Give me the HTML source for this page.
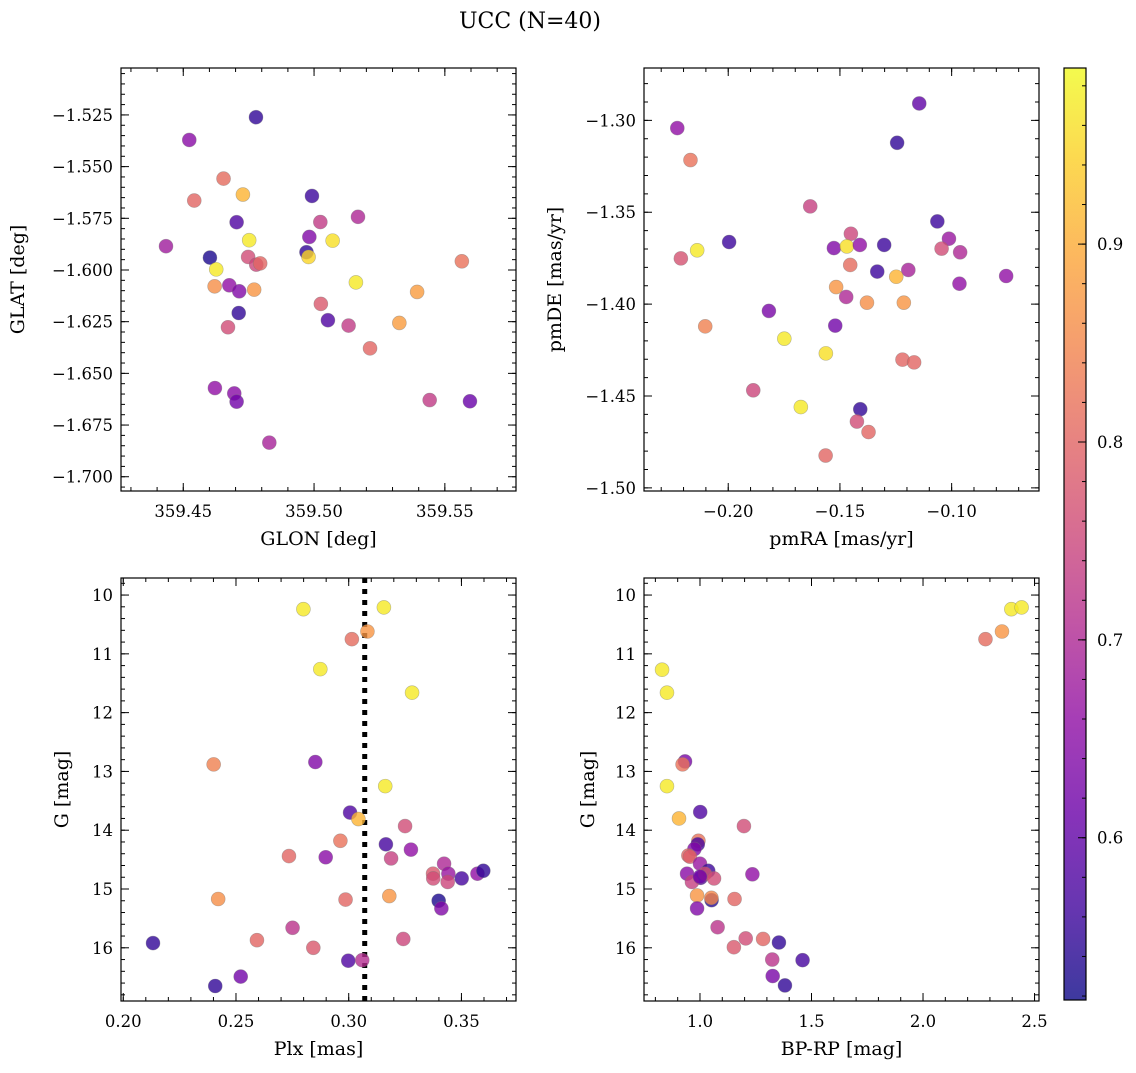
<!DOCTYPE html>
<html><head><meta charset="utf-8"><style>
html,body{margin:0;padding:0;background:#fff;}
svg text{font-family:"DejaVu Serif","Liberation Serif",serif;fill:#000;}
</style></head><body>
<svg id="fig" width="1136" height="1068" viewBox="0 0 1136 1068" xmlns="http://www.w3.org/2000/svg">
<text x="530" y="28" font-size="22" text-anchor="middle">UCC (N=40)</text>
</svg>
<script>
// ---- data ----
const glon=[359.4778,359.4523,359.4654,359.4728,359.4542,359.4992,359.4704,359.5024,359.5168,359.4434,359.4752,359.4982,359.5071,359.4602,359.4971,359.4979,359.4748,359.4779,359.4794,359.5565,359.4626,359.4620,359.4676,359.4714,359.4771,359.5160,359.5394,359.5026,359.4712,359.5053,359.4671,359.5132,359.5326,359.5214,359.4621,359.4695,359.4704,359.5442,359.5596,359.4829];
const glat=[-1.5261,-1.5371,-1.5558,-1.5635,-1.5664,-1.5642,-1.5769,-1.5768,-1.5743,-1.5885,-1.5856,-1.5840,-1.5858,-1.5940,-1.5914,-1.5937,-1.5937,-1.5974,-1.5968,-1.5958,-1.5997,-1.6079,-1.6074,-1.6103,-1.6095,-1.6060,-1.6106,-1.6164,-1.6208,-1.6243,-1.6277,-1.6269,-1.6256,-1.6379,-1.6571,-1.6597,-1.6637,-1.6629,-1.6635,-1.6835];
const probPos=[.55,.65,.81,.91,.80,.56,.58,.73,.70,.68,.97,.64,.96,.53,.55,.95,.76,.75,.80,.82,.97,.86,.66,.64,.87,.97,.88,.78,.55,.58,.76,.73,.88,.80,.66,.65,.62,.73,.61,.69];
const pmra=[-0.2228,-0.2169,-0.1145,-0.1244,-0.1633,-0.1996,-0.2139,-0.2212,-0.1451,-0.1527,-0.1469,-0.1411,-0.1302,-0.1064,-0.1012,-0.1045,-0.0962,-0.1454,-0.1333,-0.1194,-0.1248,-0.0756,-0.0965,-0.1517,-0.1472,-0.1379,-0.1214,-0.1818,-0.2103,-0.1521,-0.1749,-0.1563,-0.1220,-0.1168,-0.1888,-0.1675,-0.1409,-0.1424,-0.1372,-0.1564];
const pmde=[-1.3042,-1.3216,-1.2908,-1.3122,-1.3468,-1.3662,-1.3707,-1.3751,-1.3617,-1.3695,-1.3686,-1.3678,-1.3678,-1.3550,-1.3644,-1.3698,-1.3718,-1.3787,-1.3823,-1.3814,-1.3851,-1.3847,-1.3889,-1.3907,-1.3961,-1.3992,-1.3992,-1.4037,-1.4121,-1.4117,-1.4188,-1.4268,-1.4302,-1.4317,-1.4469,-1.4560,-1.4572,-1.4639,-1.4696,-1.4824];
const probPm=[.66,.82,.60,.55,.74,.56,.97,.77,.75,.64,.96,.66,.56,.56,.67,.76,.70,.81,.56,.69,.91,.66,.66,.87,.70,.86,.87,.63,.84,.62,.97,.96,.80,.80,.75,.97,.55,.76,.80,.80];
const plx=[0.2799,0.3156,0.3083,0.3014,0.2874,0.3281,0.2401,0.2852,0.3162,0.3006,0.3043,0.3250,0.2963,0.3165,0.3276,0.2735,0.2898,0.3188,0.3423,0.3374,0.3375,0.3442,0.3439,0.3501,0.3571,0.3597,0.2421,0.2986,0.3180,0.3399,0.3411,0.2751,0.2132,0.2593,0.2843,0.3242,0.2998,0.3060,0.2521,0.2408];
const gPlx=[10.24,10.21,10.62,10.75,11.26,11.66,12.88,12.84,13.25,13.70,13.81,13.93,14.18,14.24,14.33,14.44,14.46,14.48,14.57,14.74,14.82,14.74,14.88,14.82,14.74,14.69,15.17,15.18,15.12,15.20,15.33,15.66,15.92,15.87,16.00,15.85,16.22,16.21,16.49,16.65];
const probPlx=[.97,.97,.87,.81,.97,.97,.84,.64,.97,.58,.91,.76,.82,.57,.66,.80,.65,.74,.70,.78,.76,.67,.75,.57,.66,.55,.86,.80,.87,.53,.64,.72,.55,.80,.78,.75,.58,.71,.62,.55];
const plxMedian=[0.3071];
const bprp=[2.396,2.442,2.354,2.280,0.830,0.852,0.933,0.922,0.852,1.001,0.906,1.197,0.993,0.990,0.975,0.948,0.955,1.000,0.942,1.235,1.037,1.003,1.022,1.063,0.964,0.987,1.052,1.051,1.155,0.987,1.079,1.205,1.283,1.354,1.152,1.324,1.460,1.326,1.381,1.000];
const gCmd=[10.24,10.21,10.62,10.75,11.27,11.66,12.83,12.88,13.25,13.69,13.80,13.93,14.18,14.24,14.32,14.43,14.45,14.57,14.74,14.75,14.69,14.81,14.74,14.82,14.88,15.11,15.19,15.15,15.17,15.33,15.65,15.84,15.85,15.91,15.99,16.20,16.21,16.48,16.64,14.79];
const probCmd=[.97,.97,.87,.81,.97,.97,.63,.82,.97,.58,.91,.76,.82,.57,.64,.80,.79,.67,.65,.66,.56,.58,.77,.76,.74,.87,.54,.85,.80,.64,.72,.76,.80,.55,.78,.72,.57,.63,.55,.62];
const cbTicks=[0.6,0.7,0.8,0.9];
const cbRange=[0.518,0.989];

const NS="http://www.w3.org/2000/svg";
const svg=document.getElementById('fig');
function mk(tag,attrs,parent){const e=document.createElementNS(NS,tag);for(const k in attrs)e.setAttribute(k,attrs[k]);(parent||svg).appendChild(e);return e;}
const stops=[[13,8,135],[65,4,157],[106,0,168],[143,13,164],[177,42,144],[204,71,120],[225,100,98],[242,132,75],[252,166,54],[252,206,37],[240,249,33]];
function plasma(t){t=Math.max(0,Math.min(1,t))*10;const i=Math.min(9,Math.floor(t)),f=t-i;const a=stops[i],b=stops[i+1];return 'rgb('+a.map((v,k)=>Math.round(v+(b[k]-v)*f)).join(',')+')';}
function cmap(p){return plasma((p-cbRange[0])/(cbRange[1]-cbRange[0]));}
function fmt(v,d){return (v<0?'\u2212':'')+Math.abs(v).toFixed(d);}
const TF=16.5, LF=19;

function panel(o){
  const g=mk('g',{});
  
  
  const X=v=>o.x0+(v-o.xr[0])/(o.xr[1]-o.xr[0])*(o.x1-o.x0);
  const Y=v=>o.y0+(v-o.yr[0])/(o.yr[1]-o.yr[0])*(o.y1-o.y0);
  function ticks(range,step,cb){const lo=Math.min(range[0],range[1]),hi=Math.max(range[0],range[1]);for(let k=Math.ceil(lo/step-1e-6);k*step<=hi+1e-9;k++)cb(k*step);}
  ticks(o.xr,o.xminor,v=>{const x=X(v);mk('line',{x1:x,x2:x,y1:o.y1,y2:o.y1-4,stroke:'#000','stroke-width':1},g);mk('line',{x1:x,x2:x,y1:o.y0,y2:o.y0+4,stroke:'#000','stroke-width':1},g);});
  ticks(o.yr,o.yminor,v=>{const y=Y(v);mk('line',{x1:o.x0,x2:o.x0+4,y1:y,y2:y,stroke:'#000','stroke-width':1},g);mk('line',{x1:o.x1,x2:o.x1-4,y1:y,y2:y,stroke:'#000','stroke-width':1},g);});
  ticks(o.xr,o.xmajor,v=>{const x=X(v);mk('line',{x1:x,x2:x,y1:o.y1,y2:o.y1-8,stroke:'#000','stroke-width':1},g);mk('line',{x1:x,x2:x,y1:o.y0,y2:o.y0+8,stroke:'#000','stroke-width':1},g);
    const t=mk('text',{x:x,y:o.y1+26,'font-size':TF,'text-anchor':'middle'},g);t.textContent=fmt(v,o.xd);
    
    });
  ticks(o.yr,o.ymajor,v=>{const y=Y(v);mk('line',{x1:o.x0,x2:o.x0+8,y1:y,y2:y,stroke:'#000','stroke-width':1},g);mk('line',{x1:o.x1,x2:o.x1-8,y1:y,y2:y,stroke:'#000','stroke-width':1},g);
    const t=mk('text',{x:o.x0-8,y:y+6,'font-size':TF,'text-anchor':'end'},g);t.textContent=fmt(v,o.yd);
    
    });
  if(o.vline){const x=X(o.vline[0]);const l=mk('line',{x1:x,x2:x,y1:o.y0,y2:o.y1,stroke:'#000','stroke-width':5,'stroke-dasharray':'5,6'},g);
    
    }
  for(let i=0;i<o.xs.length;i++){
    const c=mk('circle',{cx:X(o.xs[i]),cy:Y(o.ys[i]),r:7,fill:cmap(o.ps[i]),'fill-opacity':0.8,stroke:'#777','stroke-opacity':0.5,'stroke-width':0.6},g);
    
    
  }
  const fr=mk('rect',{x:o.x0,y:o.y0,width:o.x1-o.x0,height:o.y1-o.y0,fill:'none',stroke:'#000','stroke-width':1.2},g);
  
  
  const xl=mk('text',{x:(o.x0+o.x1)/2,y:o.y1+54,'font-size':LF,'text-anchor':'middle'},g);xl.textContent=o.xlabel;
  
  
  const yl=mk('text',{x:0,y:0,'font-size':LF,'text-anchor':'middle',transform:`translate(${o.ylx},${(o.y0+o.y1)/2}) rotate(-90)`},g);yl.textContent=o.ylabel;
  
  
}
panel({name:'panel-position',x0:121,x1:516,y0:68,y1:491,xr:[359.4262,359.5772],yr:[-1.5023,-1.7069],xmajor:0.05,xminor:0.01,ymajor:0.025,yminor:0.005,xd:2,yd:3,xs:glon,ys:glat,ps:probPos,xlabel:'GLON [deg]',ylabel:'GLAT [deg]',ylx:24});
panel({name:'panel-proper-motion',x0:644,x1:1039,y0:68,y1:491,xr:[-0.2377,-0.0609],yr:[-1.2715,-1.5017],xmajor:0.05,xminor:0.01,ymajor:0.05,yminor:0.01,xd:2,yd:2,xs:pmra,ys:pmde,ps:probPm,xlabel:'pmRA [mas/yr]',ylabel:'pmDE [mas/yr]',ylx:561});
panel({name:'panel-parallax',x0:121,x1:516,y0:578,y1:1001,xr:[0.199,0.3742],yr:[9.71,16.905],xmajor:0.05,xminor:0.01,ymajor:1,yminor:0.2,xd:2,yd:0,xs:plx,ys:gPlx,ps:probPlx,xlabel:'Plx [mas]',ylabel:'G [mag]',ylx:68,vline:plxMedian});
panel({name:'panel-cmd',x0:644,x1:1039,y0:578,y1:1001,xr:[0.749,2.520],yr:[9.71,16.905],xmajor:0.5,xminor:0.1,ymajor:1,yminor:0.2,xd:1,yd:0,xs:bprp,ys:gCmd,ps:probCmd,xlabel:'BP-RP [mag]',ylabel:'G [mag]',ylx:594});

const cb=mk('g',{});


const defs=mk('defs',{},cb);
const lg=mk('linearGradient',{id:'cbg',x1:0,y1:1,x2:0,y2:0},defs);
for(let k=0;k<=20;k++){mk('stop',{offset:k/20,'stop-color':plasma(k/20),'stop-opacity':0.8},lg);}
const cx0=1064,cx1=1086,cy0=68,cy1=1000;
const CY=v=>cy1-(v-cbRange[0])/(cbRange[1]-cbRange[0])*(cy1-cy0);
mk('rect',{x:cx0,y:cy0,width:cx1-cx0,height:cy1-cy0,fill:'url(#cbg)'},cb);
for(let k=Math.ceil(cbRange[0]/0.02);k*0.02<=cbRange[1];k++){const y=CY(k*0.02);mk('line',{x1:cx1,x2:cx1-4,y1:y,y2:y,stroke:'#000','stroke-width':1},cb);}
cbTicks.forEach(v=>{const y=CY(v);mk('line',{x1:cx1,x2:cx1-8,y1:y,y2:y,stroke:'#000','stroke-width':1},cb);
  const t=mk('text',{x:cx1+11,y:y+6,'font-size':TF},cb);t.textContent=v.toFixed(1);
  
  });
mk('rect',{x:cx0,y:cy0,width:cx1-cx0,height:cy1-cy0,fill:'none',stroke:'#000','stroke-width':1.2},cb);
</script>
</body></html>
